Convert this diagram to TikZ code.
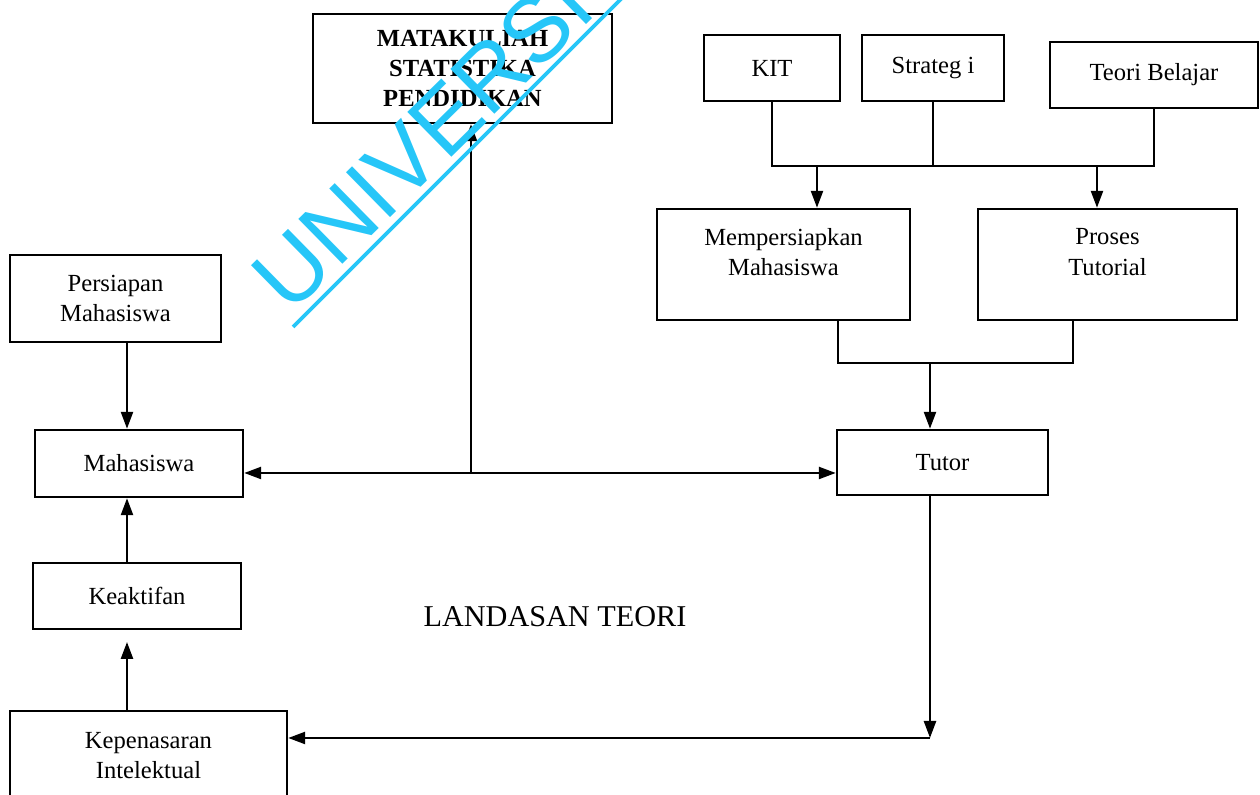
\documentclass[tikz,border=0pt]{standalone}
\usepackage{fontspec}
\setmainfont{Liberation Serif}
\newfontfamily\wmfont{Liberation Sans}
\usetikzlibrary{arrows.meta, positioning}
\definecolor{WaterCyan}{RGB}{38,198,248}

\begin{document}
\begin{tikzpicture}[
  box/.style={draw, line width=0.7pt, inner sep=0pt, align=center,
              font=\fontsize{7}{8.6}\selectfont},
  headbox/.style={box, font=\fontsize{7}{8.6}\selectfont\bfseries},
  lbl/.style={font=\fontsize{7}{8.6}\selectfont, align=center},
  link/.style={line width=0.7pt},
  arr/.style={-{Triangle[length=1.7mm,width=1.2mm]}, line width=0.7pt},
  wmtext/.style={font=\wmfont\fontsize{26}{26}\selectfont, WaterCyan, inner sep=0pt},
  wmline/.style={WaterCyan, line width=1.1pt},
]
\useasboundingbox (0,0) rectangle (12.6,-7.95);

% Top row
\node[headbox, minimum width=2.99cm, minimum height=1.09cm] (mk) at (4.625,-0.685)
  {MATAKULIAH\\STATISTIKA\\PENDIDIKAN};
\node[box, minimum width=1.36cm, minimum height=0.66cm] (kit)   at (7.72,-0.68)  {KIT};
\node[box, minimum width=1.42cm, minimum height=0.66cm] (strat) at (9.33,-0.68)  {Strateg i};
\node[box, minimum width=2.08cm, minimum height=0.66cm] (teori) at (11.54,-0.75) {Teori Belajar};

% Second row
\node[box, minimum width=2.53cm, minimum height=1.11cm] (mp) at (7.835,-2.645) {};
\node[lbl] (mptext) at ([yshift=0.125cm]mp.center) {Mempersiapkan\\Mahasiswa};
\node[box, minimum width=2.59cm, minimum height=1.11cm] (pt) at (11.075,-2.645) {};
\node[lbl] (pttext) at ([yshift=0.125cm]pt.center) {Proses\\Tutorial};

% Left column
\node[box, minimum width=2.11cm, minimum height=0.87cm] (pm)   at (1.155,-2.985) {Persiapan\\Mahasiswa};
\node[box, minimum width=2.08cm, minimum height=0.67cm] (mhs)  at (1.39,-4.635)  {Mahasiswa};
\node[box, minimum width=2.08cm, minimum height=0.66cm] (keak) at (1.37,-5.96)   {Keaktifan};
\node[box, minimum width=2.77cm, minimum height=0.89cm] (kep)  at (1.485,-7.555) {Kepenasaran\\Intelektual};

\node[box, minimum width=2.11cm, minimum height=0.65cm] (tutor) at (9.425,-4.625) {Tutor};
\node[lbl, font=\fontsize{8.6}{10}\selectfont] (lt) at (5.55,-6.17) {LANDASAN TEORI};

% Helper points
\coordinate (bus)  at (7.72,-1.66);
\coordinate (mpin) at (8.17,-1.66);
\coordinate (ptin) at (10.97,-1.66);
\coordinate (busB) at (9.30,-3.63);
\coordinate (hub)  at (4.71,-4.73);
\coordinate (lcol) at (1.27,0);
\coordinate (gap)  at (1.27,-6.42);
\coordinate (corner) at (9.30,-7.38);

% Connectors
\draw[link] (kit.south) -- (bus) -| (teori.south);
\draw[link] (strat.south) -- (strat.south |- bus);
\draw[arr] (mpin) -- (mpin |- mp.north);
\draw[arr] (ptin) -- (ptin |- pt.north);
\draw[link] ([xshift=5.45mm]mp.south) |- ([xshift=-3.45mm]pt.south |- busB) -- ([xshift=-3.45mm]pt.south);
\draw[arr] (busB) -- (busB |- tutor.north);
\draw[arr] (hub) -- (hub -| mhs.east);
\draw[arr] (hub) -- (hub -| tutor.west);
\draw[arr] (hub) -- (hub |- mk.south);
\draw[arr] (pm.south -| lcol) -- (mhs.north -| lcol);
\draw[arr] (keak.north -| lcol) -- (mhs.south -| lcol);
\draw[arr] (kep.north -| lcol) -- (gap);
\draw[arr] (tutor.south -| corner) -- (corner);
\draw[arr] (corner) -- (corner -| kep.east);

% Watermark
\begin{scope}
  \clip (0,0) rectangle (12.6,-7.95);
  \node[wmtext, rotate=44.5, anchor=base west] (wm) at (2.90,-3.16) {UNIVERSITAS};
  \draw[wmline] (2.93,-3.27) -- (6.5,0.30);
\end{scope}
\end{tikzpicture}
\end{document}
